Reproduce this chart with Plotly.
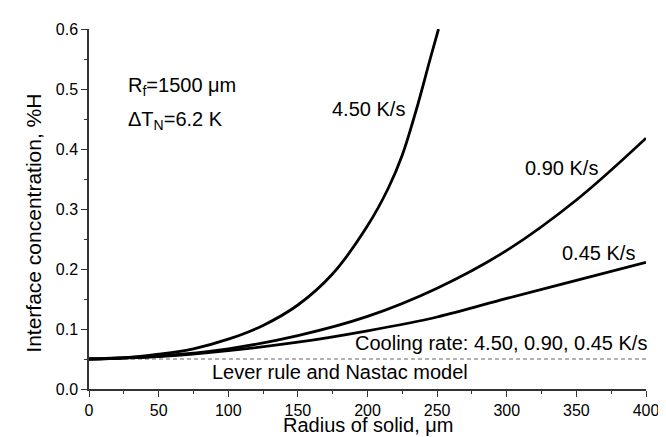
import plotly.graph_objects as go

# Radius of solid (um) and interface concentration (%H)
r_450 = [0, 25, 50, 75, 100, 125, 150, 175, 200, 215, 225, 235, 245, 251]
c_450 = [0.050, 0.052, 0.058, 0.067, 0.083, 0.106, 0.140, 0.192, 0.272, 0.335, 0.390, 0.465, 0.550, 0.600]

r_090 = [0, 50, 100, 150, 200, 250, 300, 350, 400]
c_090 = [0.050, 0.055, 0.067, 0.089, 0.121, 0.168, 0.231, 0.315, 0.418]

r_045 = [0, 50, 100, 150, 200, 250, 300, 350, 400]
c_045 = [0.050, 0.054, 0.064, 0.078, 0.097, 0.120, 0.151, 0.181, 0.211]

r_lever = [0, 400]
c_lever = [0.05, 0.05]

x_ticks = [0, 50, 100, 150, 200, 250, 300, 350, 400]
y_ticks = [0.0, 0.1, 0.2, 0.3, 0.4, 0.5, 0.6]

FONT = "Arial, Liberation Sans, sans-serif"

fig = go.Figure()
fig.add_trace(go.Scatter(x=r_lever, y=c_lever, mode="lines",
                         line=dict(color="#666666", width=1, dash="4px,3px"),
                         showlegend=False))
for xs, ys in [(r_045, c_045), (r_090, c_090), (r_450, c_450)]:
    fig.add_trace(go.Scatter(x=xs, y=ys, mode="lines", line_shape="spline",
                             line=dict(color="black", width=2.8), showlegend=False))

ann = dict(showarrow=False, font=dict(family=FONT, size=20, color="black"))
fig.add_annotation(x=228.4, y=0.466, text="4.50 K/s", xanchor="right", yanchor="middle", **ann)
fig.add_annotation(x=366.7, y=0.368, text="0.90 K/s", xanchor="right", yanchor="middle", **ann)
fig.add_annotation(x=393.7, y=0.227, text="0.45 K/s", xanchor="right", yanchor="middle", **ann)
fig.add_annotation(x=189.6, y=0.077, text="Cooling rate: 4.50, 0.90, 0.45 K/s", xanchor="left", yanchor="middle", **ann)
fig.add_annotation(x=180, y=0.028, text="Lever rule and Nastac model", xanchor="center", yanchor="middle", **ann)
fig.add_annotation(x=26.6, y=0.505, text="R<sub>f</sub>=1500 μm", xanchor="left", yanchor="middle", **ann)
fig.add_annotation(x=26.6, y=0.447, text="ΔT<sub>N</sub>=6.2 K", xanchor="left", yanchor="middle", **ann)

# axis titles placed as paper-referenced text
fig.add_annotation(xref="paper", yref="paper", x=0.5, y=-0.1, text="Radius of solid, μm",
                   showarrow=False, xanchor="center", yanchor="middle",
                   font=dict(family=FONT, size=20, color="black"))
fig.add_annotation(xref="paper", yref="paper", x=-0.1, y=0.46, text="Interface concentration, %H",
                   showarrow=False, textangle=-90, xanchor="center", yanchor="middle",
                   font=dict(family=FONT, size=21, color="black"))

axis_common = dict(showline=True, linecolor="#333333", linewidth=1.5, ticks="outside",
                   ticklen=6, tickwidth=1.2, tickcolor="#333333", showgrid=False, zeroline=False,
                   mirror=False, tickfont=dict(family=FONT, size=16, color="black"))

fig.update_xaxes(range=[0, 400], tickvals=x_ticks,
                 minor=dict(ticks="outside", ticklen=3, dtick=25, tickcolor="#333333", tickwidth=1),
                 **axis_common)
fig.update_yaxes(range=[0, 0.6], tickvals=y_ticks, tickformat=".1f",
                 minor=dict(ticks="outside", ticklen=3, dtick=0.05, tickcolor="#333333", tickwidth=1),
                 **axis_common)

fig.update_layout(width=666, height=437, margin=dict(l=81, r=28, t=21, b=56),
                  plot_bgcolor="white", paper_bgcolor="white",
                  font=dict(family=FONT, color="black"))

fig.write_html("out.html")
